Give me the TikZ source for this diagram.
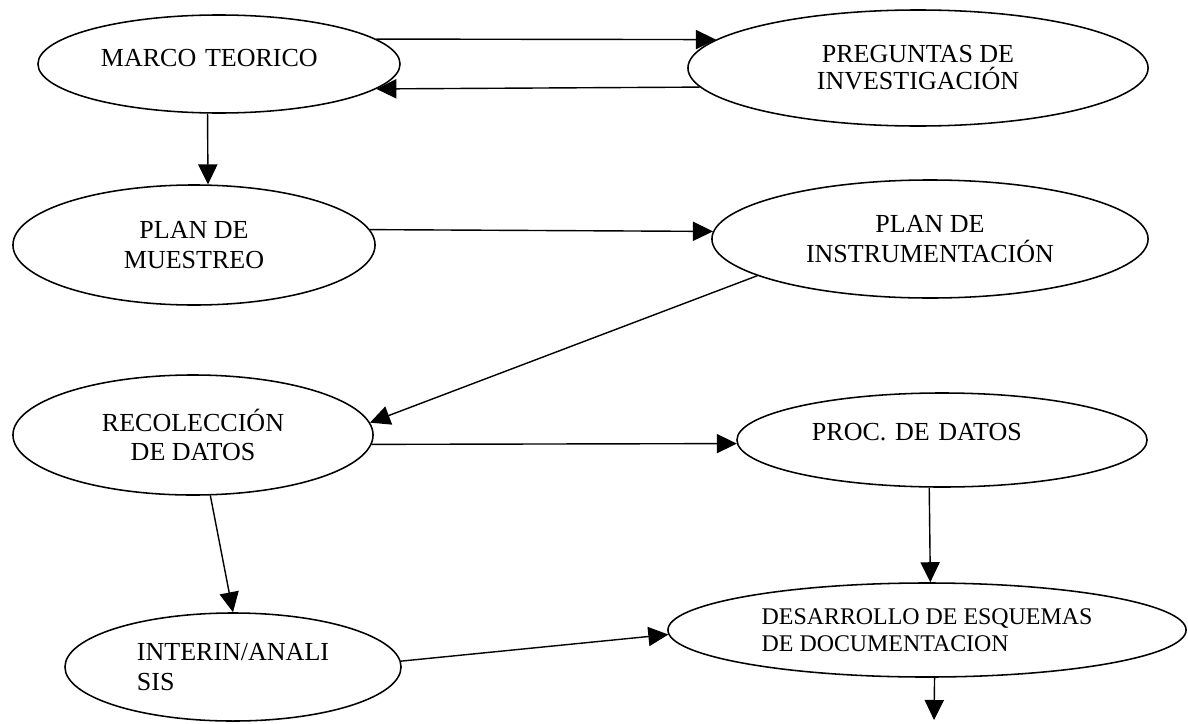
\documentclass[tikz,border=0pt]{standalone}
\usepackage{fontspec}
\setmainfont{Liberation Serif}
\usepackage{tikz}
\usetikzlibrary{arrows.meta,shapes,positioning}
\tikzstyle{oval} = [ellipse, draw=black, line width=1.1pt, inner sep=0pt, align=center, font=\fontsize{18.5}{21}\selectfont]
\tikzstyle{arrow} = [line width=1pt, -{Triangle[length=5mm,width=4.8mm]}]

\begin{document}
\begin{tikzpicture}[x=0.025cm, y=-0.025cm]
\useasboundingbox (0,0) rectangle (1188,723);

% Ellipses
\node[oval, minimum width=9.05cm, minimum height=2.45cm, text depth=0.3cm, text width=5.9cm, align=left] (marco) at (219,64) {MARCO TEORICO};
\node[oval, minimum width=11.5cm, minimum height=2.9cm, font=\fontsize{18.5}{19.2}\selectfont] (preg) at (918,68) {PREGUNTAS DE\\INVESTIGACIÓN};
\node[oval, minimum width=9.05cm, minimum height=3cm] (muestreo) at (194,245) {PLAN DE\\MUESTREO};
\node[oval, minimum width=10.9cm, minimum height=2.95cm] (instr) at (930,239) {PLAN DE\\INSTRUMENTACIÓN};
\node[oval, minimum width=9cm, minimum height=3cm] (recol) at (193,435) {RECOLECCIÓN\\DE DATOS};
\node[oval, minimum width=10.25cm, minimum height=2.35cm, text depth=0.4cm, text width=6.5cm, align=left] (proc) at (942,440) {PROC. DE DATOS};
\node[oval, minimum width=12.95cm, minimum height=2.35cm, align=left, font=\fontsize{17}{19.2}\selectfont] (desarr) at (927,630) {DESARROLLO DE ESQUEMAS\\DE DOCUMENTACION};
\node[oval, minimum width=8.4cm, minimum height=2.7cm, align=left] (interin) at (233,667) {INTERIN/ANALI\\SIS};
\coordinate (fin) at (934,720);

% Arrows
\draw[arrow] (marco.9) -- (preg.172);
\draw[arrow] (preg.185) -- (marco.351);
\draw[arrow] (marco.257) -- (muestreo.77);
\draw[arrow] (muestreo.5) -- (instr.178);
\draw[arrow] (instr.192) -- (recol.4);
\draw[arrow] (recol.357) -- (proc.181);
\draw[arrow] (recol.286) -- (interin.north);
\draw[arrow] (proc.255) -- (desarr.86);
\draw[arrow] (interin.2) -- (desarr.181);
\draw[arrow] (desarr.279) -- (fin);
\end{tikzpicture}
\end{document}
